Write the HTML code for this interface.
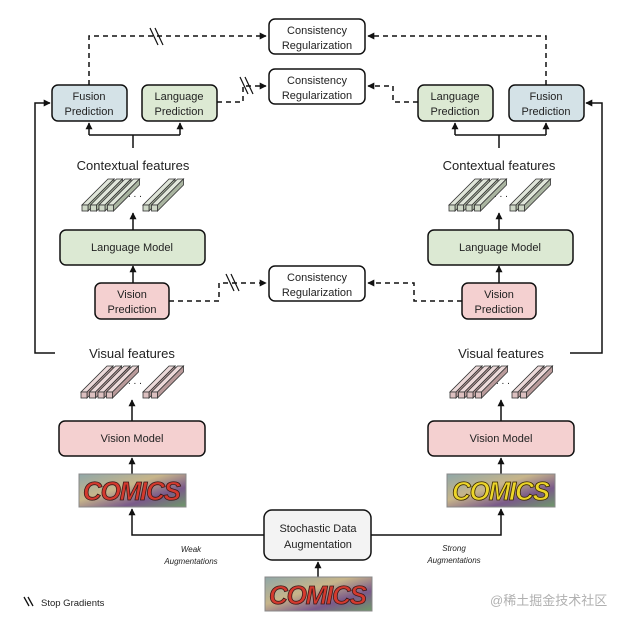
<!DOCTYPE html>
<html><head><meta charset="utf-8"><style>
html,body{margin:0;padding:0;background:#fff}
svg{display:block}
text{font-family:"Liberation Sans","Noto Sans CJK SC",sans-serif}
</style></head><body>
<svg width="625" height="625" viewBox="0 0 625 625" xmlns="http://www.w3.org/2000/svg">
<defs>
<marker id="ar" viewBox="0 0 10 10" refX="9" refY="5" markerWidth="7" markerHeight="7" markerUnits="userSpaceOnUse" orient="auto"><path d="M0,0 L10,5 L0,10 z" fill="#111"/></marker>
<g id="bg"><polygon points="0,-6 6,-6 32,-32 26,-32" fill="#e0e6da" stroke="#333" stroke-width="0.8"/><polygon points="6,-6 6,0 32,-26 32,-32" fill="#a9b4a0" stroke="#333" stroke-width="0.8"/><rect x="0" y="-6" width="6" height="6" fill="#cfd8c7" stroke="#333" stroke-width="0.8"/></g>
<g id="bp"><polygon points="0,-6 6,-6 32,-32 26,-32" fill="#ecd9d9" stroke="#333" stroke-width="0.8"/><polygon points="6,-6 6,0 32,-26 32,-32" fill="#b89a9a" stroke="#333" stroke-width="0.8"/><rect x="0" y="-6" width="6" height="6" fill="#dcc0c0" stroke="#333" stroke-width="0.8"/></g>
<linearGradient id="cg" x1="0" y1="0" x2="1" y2="1"><stop offset="0" stop-color="#8fa7a8"/><stop offset="0.4" stop-color="#c7b58a"/><stop offset="0.7" stop-color="#7a5a8a"/><stop offset="1" stop-color="#6f9a6a"/></linearGradient>
</defs>
<g fill="none" stroke="#111" stroke-width="1.5">
<rect x="269" y="19" width="96" height="35" rx="6" fill="#fff"/>
<rect x="269" y="69" width="96" height="35" rx="6" fill="#fff"/>
<rect x="269" y="266" width="96" height="35" rx="6" fill="#fff"/>
<rect x="52" y="85" width="75" height="36" rx="6" fill="#d4e2e7"/>
<rect x="142" y="85" width="75" height="36" rx="6" fill="#dce9d3"/>
<rect x="418" y="85" width="75" height="36" rx="6" fill="#dce9d3"/>
<rect x="509" y="85" width="75" height="36" rx="6" fill="#d4e2e7"/>
<rect x="60" y="230" width="145" height="35" rx="6" fill="#dce9d3"/>
<rect x="428" y="230" width="145" height="35" rx="6" fill="#dce9d3"/>
<rect x="95" y="283" width="74" height="36" rx="6" fill="#f4d0d0"/>
<rect x="462" y="283" width="74" height="36" rx="6" fill="#f4d0d0"/>
<rect x="59" y="421" width="146" height="35" rx="6" fill="#f4d0d0"/>
<rect x="428" y="421" width="146" height="35" rx="6" fill="#f4d0d0"/>
<rect x="264" y="510" width="107" height="50" rx="8" fill="#f3f3f3"/>
<g stroke-dasharray="5,4">
<path d="M89,85 V36 H266" marker-end="url(#ar)"/>
<path d="M546,85 V36 H368" marker-end="url(#ar)"/>
<path d="M217,102 H243 V86 H266" marker-end="url(#ar)"/>
<path d="M418,102 H393 V86 H368" marker-end="url(#ar)"/>
<path d="M169,301 H219 V283 H266" marker-end="url(#ar)"/>
<path d="M462,301 H414 V283 H368" marker-end="url(#ar)"/>
</g>
<path d="M150,28 L158,45 M155,28 L163,45" stroke-width="1.2"/>
<path d="M240,77 L248,94 M245,77 L253,94" stroke-width="1.2"/>
<path d="M226,274 L234,291 M231,274 L239,291" stroke-width="1.2"/>
<path d="M133,148 V135 M89,135 H180"/>
<path d="M89,135 V123" marker-end="url(#ar)"/>
<path d="M180,135 V123" marker-end="url(#ar)"/>
<path d="M499,148 V135 M455,135 H546"/>
<path d="M455,135 V123" marker-end="url(#ar)"/>
<path d="M546,135 V123" marker-end="url(#ar)"/>
<path d="M133,230 V213" marker-end="url(#ar)"/>
<path d="M499,230 V213" marker-end="url(#ar)"/>
<path d="M133,283 V266" marker-end="url(#ar)"/>
<path d="M499,283 V266" marker-end="url(#ar)"/>
<path d="M55,353 H35 V103 H50" marker-end="url(#ar)"/>
<path d="M570,353 H602 V103 H586" marker-end="url(#ar)"/>
<path d="M132,421 V400" marker-end="url(#ar)"/>
<path d="M501,421 V400" marker-end="url(#ar)"/>
<path d="M132,474 V458" marker-end="url(#ar)"/>
<path d="M501,474 V458" marker-end="url(#ar)"/>
<path d="M264,535 H132 V509" marker-end="url(#ar)"/>
<path d="M371,535 H501 V509" marker-end="url(#ar)"/>
<path d="M318,577 V562" marker-end="url(#ar)"/>
</g>
<use href="#bg" x="82" y="211"/><use href="#bg" x="90.5" y="211"/><use href="#bg" x="99" y="211"/><use href="#bg" x="107.5" y="211"/><use href="#bg" x="143" y="211"/><use href="#bg" x="151.5" y="211"/>
<use href="#bg" x="449" y="211"/><use href="#bg" x="457.5" y="211"/><use href="#bg" x="466" y="211"/><use href="#bg" x="474.5" y="211"/><use href="#bg" x="510" y="211"/><use href="#bg" x="518.5" y="211"/>
<use href="#bp" x="81" y="398"/><use href="#bp" x="89.5" y="398"/><use href="#bp" x="98" y="398"/><use href="#bp" x="106.5" y="398"/><use href="#bp" x="143" y="398"/><use href="#bp" x="151.5" y="398"/>
<use href="#bp" x="450" y="398"/><use href="#bp" x="458.5" y="398"/><use href="#bp" x="467" y="398"/><use href="#bp" x="475.5" y="398"/><use href="#bp" x="512" y="398"/><use href="#bp" x="520.5" y="398"/>
<g style="fill:#222">
<text x="128" y="197" font-size="10">. . .</text><text x="494" y="197" font-size="10">. . .</text>
<text x="128" y="384" font-size="10">. . .</text><text x="496" y="384" font-size="10">. . .</text>
</g>
<rect x="79" y="474" width="107" height="33" fill="url(#cg)" stroke="#888"/>
<text x="132" y="500" font-size="26" font-weight="bold" font-style="italic" text-anchor="middle" style="fill:#d43a2e;stroke:#3a1a1a;stroke-width:0.8" textLength="98">COMICS</text>
<rect x="447" y="474" width="108" height="33" fill="url(#cg)" stroke="#888"/>
<text x="501" y="500" font-size="26" font-weight="bold" font-style="italic" text-anchor="middle" style="fill:#ecd52a;stroke:#3a2a00;stroke-width:0.8" textLength="98">COMICS</text>
<rect x="265" y="577" width="107" height="34" fill="url(#cg)" stroke="#888"/>
<text x="318" y="604" font-size="26" font-weight="bold" font-style="italic" text-anchor="middle" style="fill:#d43a2e;stroke:#3a1a1a;stroke-width:0.8" textLength="98">COMICS</text>
<g font-size="11" text-anchor="middle" style="fill:#222">
<text x="317" y="34">Consistency</text><text x="317" y="49">Regularization</text>
<text x="317" y="84">Consistency</text><text x="317" y="99">Regularization</text>
<text x="317" y="281">Consistency</text><text x="317" y="296">Regularization</text>
<text x="89" y="100">Fusion</text><text x="89" y="115">Prediction</text>
<text x="179" y="100">Language</text><text x="179" y="115">Prediction</text>
<text x="455" y="100">Language</text><text x="455" y="115">Prediction</text>
<text x="546" y="100">Fusion</text><text x="546" y="115">Prediction</text>
<text x="132" y="251">Language Model</text><text x="500" y="251">Language Model</text>
<text x="132" y="298">Vision</text><text x="132" y="313">Prediction</text>
<text x="499" y="298">Vision</text><text x="499" y="313">Prediction</text>
<text x="132" y="442">Vision Model</text><text x="501" y="442">Vision Model</text>
<text x="318" y="532">Stochastic Data</text><text x="318" y="548">Augmentation</text>
<text x="133" y="170" font-size="13">Contextual features</text>
<text x="499" y="170" font-size="13">Contextual features</text>
<text x="132" y="358" font-size="13">Visual features</text>
<text x="501" y="358" font-size="13">Visual features</text>
</g>
<g font-size="8" font-style="italic" text-anchor="middle" style="fill:#222">
<text x="191" y="552">Weak</text><text x="191" y="564">Augmentations</text>
<text x="454" y="551">Strong</text><text x="454" y="563">Augmentations</text>
</g>
<path d="M24,597 L29,606 M28,597 L33,606" stroke="#111" stroke-width="1.3" fill="none"/>
<text x="41" y="606" font-size="9.5" style="fill:#222">Stop Gradients</text>
<text x="490" y="605" font-size="13" style="fill:#b0b0b0">@稀土掘金技术社区</text>
</svg>
</body></html>
